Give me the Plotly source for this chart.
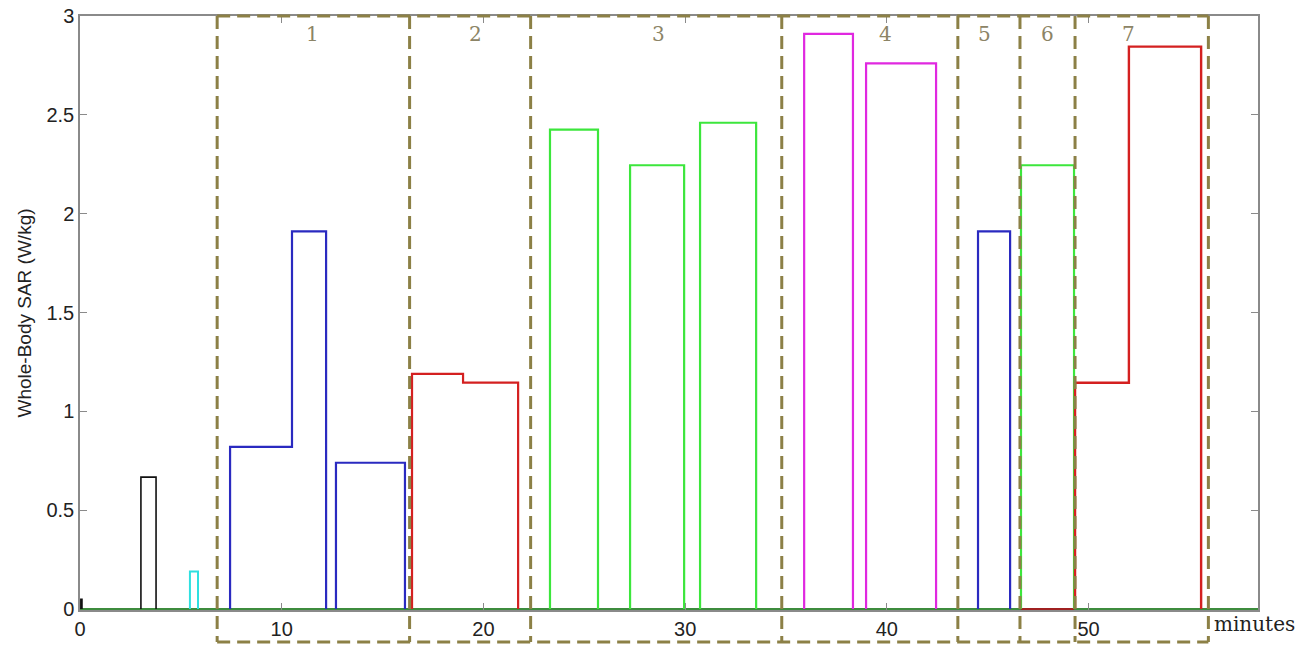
import plotly.graph_objects as go

# ---- data (minutes, W/kg) ----
x_max = 58.4
baseline_t = [0.0, 58.4]
baseline_v = [0.0, 0.0]

black_t = [3.02, 3.02, 3.77, 3.77]
black_v = [0.0, 0.667, 0.667, 0.0]
black0_t = [0.04, 0.04, 0.1, 0.1]
black0_v = [0.0, 0.05, 0.05, 0.0]

cyan_t = [5.45, 5.45, 5.85, 5.85]
cyan_v = [0.0, 0.19, 0.19, 0.0]

blue_a_t = [7.44, 7.44, 10.51, 10.51, 12.2, 12.2]
blue_a_v = [0.0, 0.82, 0.82, 1.91, 1.91, 0.0]
blue_b_t = [12.69, 12.69, 16.11, 16.11]
blue_b_v = [0.0, 0.74, 0.74, 0.0]
blue_c_t = [44.52, 44.52, 46.11, 46.11]
blue_c_v = [0.0, 1.91, 1.91, 0.0]

red_a_t = [16.46, 16.46, 18.99, 18.99, 21.72, 21.72]
red_a_v = [0.0, 1.19, 1.19, 1.145, 1.145, 0.0]
red_base_t = [46.65, 49.28]
red_base_v = [0.0, 0.0]
red_b_t = [49.33, 49.33, 52.0, 52.0, 55.58, 55.58]
red_b_v = [0.0, 1.145, 1.145, 2.845, 2.845, 0.0]

green_a_t = [23.3, 23.3, 25.68, 25.68]
green_a_v = [0.0, 2.425, 2.425, 0.0]
green_b_t = [27.27, 27.27, 29.95, 29.95]
green_b_v = [0.0, 2.245, 2.245, 0.0]
green_c_t = [30.74, 30.74, 33.52, 33.52]
green_c_v = [0.0, 2.46, 2.46, 0.0]
green_d_t = [46.65, 46.65, 49.28, 49.28]
green_d_v = [0.0, 2.245, 2.245, 0.0]

mag_a_t = [35.9, 35.9, 38.32, 38.32]
mag_a_v = [0.0, 2.91, 2.91, 0.0]
mag_b_t = [38.97, 38.97, 42.44, 42.44]
mag_b_v = [0.0, 2.76, 2.76, 0.0]

box_edges = [6.8, 16.34, 22.34, 34.79, 43.52, 46.6, 49.33, 55.94]
box_labels = ["1", "2", "3", "4", "5", "6", "7"]
box_label_x = [11.55, 19.63, 28.66, 39.91, 44.82, 47.94, 51.96]

y_ticks = [0, 0.5, 1, 1.5, 2, 2.5, 3]
y_tick_text = ["0", "0.5", "1", "1.5", "2", "2.5", "3"]
x_ticks = [0, 10, 20, 30, 40, 50]
x_tick_text = ["0", "10", "20", "30", "40", "50"]

BLACK = "#111111"
CYAN = "#2fe0e0"
BLUE = "#2a2ac0"
RED = "#d42020"
GREEN = "#3ce63c"
BASE_GREEN = "#3d8c3d"
MAGENTA = "#e028e0"
OLIVE = "#8c8046"

fig = go.Figure()

def add(t, v, color, w=2.0):
    fig.add_trace(go.Scatter(x=t, y=v, mode="lines",
                             line=dict(color=color, width=w),
                             hoverinfo="skip", showlegend=False))

add(baseline_t, baseline_v, BASE_GREEN, 2)
add(black0_t, black0_v, BLACK, 1.5)
add(black_t, black_v, BLACK, 1.6)
add(cyan_t, cyan_v, CYAN, 2)
add(blue_a_t, blue_a_v, BLUE, 2.2)
add(blue_b_t, blue_b_v, BLUE, 2.2)
add(red_a_t, red_a_v, RED, 2.2)
add(green_a_t, green_a_v, GREEN, 2.2)
add(green_b_t, green_b_v, GREEN, 2.2)
add(green_c_t, green_c_v, GREEN, 2.2)
add(mag_a_t, mag_a_v, MAGENTA, 2.2)
add(mag_b_t, mag_b_v, MAGENTA, 2.2)
add(blue_c_t, blue_c_v, BLUE, 2.2)
add(red_base_t, red_base_v, "#a02020", 2)
add(green_d_t, green_d_v, GREEN, 2.2)
add(red_b_t, red_b_v, RED, 2.4)

# dashed boxes (extend below the axis)
box_bottom = -0.054
dash = dict(color=OLIVE, width=3, dash="13px,7px")
fig.add_shape(type="line", xref="x", yref="paper",
              x0=box_edges[0], x1=box_edges[-1], y0=1.0, y1=1.0,
              line=dash, layer="above")
fig.add_shape(type="line", xref="x", yref="paper",
              x0=box_edges[0], x1=box_edges[-1], y0=box_bottom, y1=box_bottom,
              line=dash, layer="above")
for e in box_edges:
    fig.add_shape(type="line", xref="x", yref="paper",
                  x0=e, x1=e, y0=1.0, y1=box_bottom,
                  line=dash, layer="above")

for lab, lx in zip(box_labels, box_label_x):
    fig.add_annotation(x=lx, y=0.97, xref="x", yref="paper", text=lab,
                       showarrow=False, yanchor="middle",
                       font=dict(family="DejaVu Serif", size=20, color="#8c8466"))

fig.add_annotation(x=1.0, y=-0.024, xref="paper", yref="paper",
                   text="minutes", showarrow=False, xanchor="left",
                   yanchor="middle", xshift=-46,
                   font=dict(family="DejaVu Serif", size=20, color="#222222"))

axis_common = dict(showline=True, mirror="ticks", linecolor="#8a8a8a",
                   linewidth=1.5, ticks="inside", ticklen=7,
                   tickcolor="#8a8a8a", showgrid=False, zeroline=False,
                   automargin=False,
                   tickfont=dict(family="Arial, Liberation Sans", size=20,
                                 color="#222222"))

fig.update_layout(
    width=1311, height=646,
    margin=dict(l=80, r=53, t=16, b=36),
    plot_bgcolor="white", paper_bgcolor="white",
    xaxis=dict(range=[0, x_max], tickvals=x_ticks, ticktext=x_tick_text,
               **axis_common),
    yaxis=dict(range=[-0.005, 3.0], tickvals=y_ticks, ticktext=y_tick_text,
               title=dict(text="Whole-Body SAR (W/kg)", standoff=10,
                          font=dict(family="Arial, Liberation Sans", size=19,
                                    color="#222222")),
               **axis_common),
)

fig.write_html("out.html")
